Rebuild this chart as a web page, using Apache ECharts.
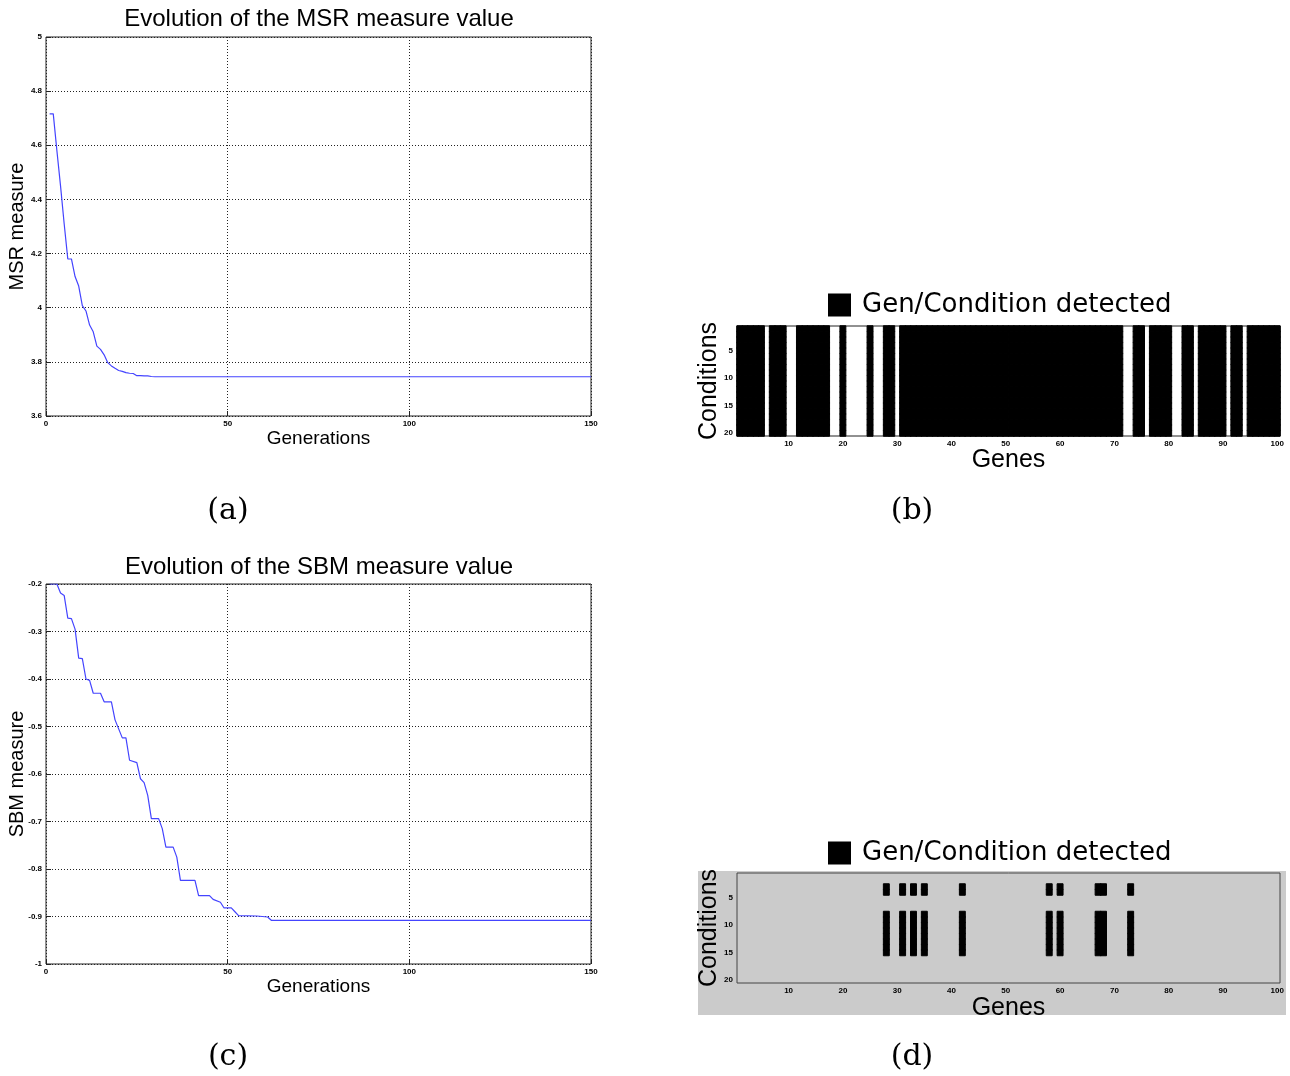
<!DOCTYPE html>
<html>
<head>
<meta charset="utf-8">
<script src="https://cdn.jsdelivr.net/npm/echarts@6.0.0/dist/echarts.min.js"></script>
<style>
html, body { margin: 0; padding: 0; background: #fff; }
#chart-container { width: 1290px; height: 1076px; }
</style>
</head>
<body>
<div id="chart-container"></div>
<script>
// (a) MSR measure per generation
var msrGen = [1, 2, 3, 4, 5, 6, 7, 8, 9, 10, 11, 12, 13, 14, 15, 16, 17, 18, 19, 20, 21, 22, 23, 24, 25, 26, 27, 28, 29, 30, 150];
var msrVal = [4.716, 4.716, 4.58, 4.45, 4.31, 4.18, 4.18, 4.115, 4.08, 4.008, 3.988, 3.936, 3.911, 3.858, 3.846, 3.826, 3.797, 3.785, 3.776, 3.768, 3.765, 3.76, 3.758, 3.757, 3.749, 3.749, 3.748, 3.748, 3.746, 3.745, 3.745];

// (c) SBM measure per generation
var sbmGen = [1, 3, 4, 5, 6, 7, 8, 9, 10, 11, 12, 13, 15, 16, 18, 19, 20, 21, 22, 23, 25, 26, 27, 28, 29, 31, 32, 33, 35, 36, 37, 41, 42, 45, 46, 48, 49, 51, 52, 53, 58, 61, 62, 150];
var sbmVal = [-0.2, -0.2, -0.219, -0.224, -0.272, -0.273, -0.295, -0.356, -0.357, -0.4, -0.403, -0.43, -0.43, -0.448, -0.448, -0.486, -0.505, -0.524, -0.524, -0.571, -0.576, -0.61, -0.618, -0.645, -0.694, -0.694, -0.715, -0.754, -0.754, -0.775, -0.824, -0.824, -0.856, -0.856, -0.864, -0.87, -0.882, -0.882, -0.89, -0.898, -0.899, -0.901, -0.908, -0.908];

// (b) / (d) bicluster maps
var geneCount = 100;
var conditionCount = 20;
var undetectedGenesB = [6, 10, 11, 18, 19, 21, 22, 23, 24, 26, 27, 30, 72, 73, 76, 81, 82, 85, 91, 94];
var detectedGenesD = [28, 31, 33, 35, 42, 58, 60, 67, 68, 73];
var detectedCondsD = [3, 4, 8, 9, 10, 11, 12, 13, 14, 15];

var geneLabels = [];
for (var g = 1; g <= geneCount; g++) geneLabels.push(String(g));
var conditionLabels = [];
for (var c = 1; c <= conditionCount; c++) conditionLabels.push(String(c));

var msrData = msrGen.map(function (x, i) { return [x, msrVal[i]]; });
var sbmData = sbmGen.map(function (x, i) { return [x, sbmVal[i]]; });

var cellsB = [];
geneLabels.forEach(function (gl, gi) {
    if (undetectedGenesB.indexOf(gi + 1) >= 0) return;
    conditionLabels.forEach(function (cl, ci) { cellsB.push([gi, ci, 1]); });
});
var cellsD = [];
detectedGenesD.forEach(function (gene) {
    detectedCondsD.forEach(function (cond) { cellsD.push([gene - 1, cond - 1, 1]); });
});

var sansFont = '"Liberation Sans", Arial, sans-serif';
var tickLabel = { color: '#000', fontSize: 8, fontWeight: 'bold', fontFamily: sansFont, margin: 4 };
var dotted = { show: true, lineStyle: { color: '#222', type: [1, 2], width: 1 } };

function valueX(grid) {
    return {
        gridIndex: grid, type: 'value', min: 0, max: 150, interval: 50,
        axisLine: { show: false },
        axisTick: { inside: true, length: 5, lineStyle: { color: '#222' } },
        axisLabel: tickLabel,
        splitLine: dotted,
        name: 'Generations', nameLocation: 'middle', nameGap: 13, nameMoveOverlap: false,
        nameTextStyle: { color: '#000', fontSize: 19, fontFamily: sansFont }
    };
}
function valueY(grid, min, max, interval, name) {
    return {
        gridIndex: grid, type: 'value', min: min, max: max, interval: interval,
        axisLine: { show: false },
        axisTick: { inside: true, length: 5, lineStyle: { color: '#222' } },
        axisLabel: tickLabel,
        splitLine: dotted,
        name: name, nameLocation: 'middle', nameGap: 19, nameMoveOverlap: false,
        nameTextStyle: { color: '#000', fontSize: 20, fontFamily: sansFont }
    };
}
function geneX(grid, gap) {
    var every10 = function (idx) { return (idx + 1) % 10 === 0; };
    return {
        gridIndex: grid, type: 'category', data: geneLabels,
        axisLine: { show: false },
        axisTick: { inside: true, length: 4, alignWithLabel: true, interval: every10, lineStyle: { color: '#444' } },
        axisLabel: Object.assign({}, tickLabel, { interval: every10 }),
        splitLine: { show: false },
        name: 'Genes', nameLocation: 'middle', nameGap: gap, nameMoveOverlap: false,
        nameTextStyle: { color: '#000', fontSize: 25, fontFamily: sansFont }
    };
}
function condY(grid) {
    var every5 = function (idx) { return (idx + 1) % 5 === 0; };
    return {
        gridIndex: grid, type: 'category', data: conditionLabels, inverse: true,
        axisLine: { show: false },
        axisTick: { inside: true, length: 4, alignWithLabel: true, interval: every5, lineStyle: { color: '#444' } },
        axisLabel: Object.assign({}, tickLabel, { interval: every5 }),
        splitLine: { show: false },
        name: 'Conditions', nameLocation: 'middle', nameGap: 15, nameMoveOverlap: false,
        nameTextStyle: { color: '#000', fontSize: 25, fontFamily: sansFont }
    };
}

var dom = document.getElementById('chart-container');
var myChart = echarts.init(dom, null, { renderer: 'canvas', useDirtyRect: false });
var option;

var legendBase = {
    icon: 'rect', itemWidth: 21, itemHeight: 21, left: 828, padding: 0,
    data: ['Gen/Condition detected'],
    textStyle: { color: '#000', fontSize: 26, fontFamily: '"DejaVu Sans", sans-serif', padding: [0, 0, 0, 7] }
};

option = {
    backgroundColor: '#fff',
    animation: false,
    legend: [
        Object.assign({}, legendBase, { top: 292 }),
        Object.assign({}, legendBase, { top: 840 })
    ],
    graphic: [
        { type: 'rect', z: -10, shape: { x: 698, y: 871, width: 588, height: 144 }, style: { fill: '#cbcbcb' } },
        { type: 'text', x: 319, y: 19, style: { text: 'Evolution of the MSR measure value', fill: '#000', font: '24px "Liberation Sans"', align: 'center', verticalAlign: 'middle' } },
        { type: 'text', x: 319, y: 567, style: { text: 'Evolution of the SBM measure value', fill: '#000', font: '24px "Liberation Sans"', align: 'center', verticalAlign: 'middle' } },
        { type: 'text', x: 228, y: 511, style: { text: '(a)', fill: '#000', font: '30px "DejaVu Serif"', align: 'center', verticalAlign: 'middle' } },
        { type: 'text', x: 912, y: 511, style: { text: '(b)', fill: '#000', font: '30px "DejaVu Serif"', align: 'center', verticalAlign: 'middle' } },
        { type: 'text', x: 228, y: 1057, style: { text: '(c)', fill: '#000', font: '30px "DejaVu Serif"', align: 'center', verticalAlign: 'middle' } },
        { type: 'text', x: 912, y: 1057, style: { text: '(d)', fill: '#000', font: '30px "DejaVu Serif"', align: 'center', verticalAlign: 'middle' } }
    ],
    grid: [
        { left: 46, top: 37, width: 545, height: 379, show: true, borderColor: '#222', borderWidth: 1, backgroundColor: '#fff', outerBoundsMode: 'none' },
        { left: 737, top: 326, width: 543, height: 110, show: true, borderColor: '#222', borderWidth: 1, backgroundColor: '#fff', outerBoundsMode: 'none' },
        { left: 46, top: 584, width: 545, height: 380, show: true, borderColor: '#222', borderWidth: 1, backgroundColor: '#fff', outerBoundsMode: 'none' },
        { left: 737, top: 873, width: 543, height: 110, show: true, borderColor: '#444', borderWidth: 1, backgroundColor: '#cbcbcb', outerBoundsMode: 'none' }
    ],
    xAxis: [valueX(0), geneX(1, 12), valueX(2), geneX(3, 13)],
    yAxis: [valueY(0, 3.6, 5, 0.2, 'MSR measure'), condY(1), valueY(2, -1, -0.2, 0.1, 'SBM measure'), condY(3)],
    series: [
        {
            name: 'MSR', type: 'line', xAxisIndex: 0, yAxisIndex: 0,
            data: msrData, showSymbol: false, silent: true,
            lineStyle: { color: '#4444ff', width: 1.2 }
        },
        {
            name: 'Gen/Condition detected', type: 'heatmap', xAxisIndex: 1, yAxisIndex: 1,
            data: cellsB, progressive: 0,
            itemStyle: { color: '#000', borderColor: '#000', borderWidth: 1, borderJoin: 'miter' },
            emphasis: { disabled: true }
        },
        {
            name: 'SBM', type: 'line', xAxisIndex: 2, yAxisIndex: 2,
            data: sbmData, showSymbol: false, silent: true,
            lineStyle: { color: '#4444ff', width: 1.2 }
        },
        {
            name: 'Gen/Condition detected', type: 'heatmap', xAxisIndex: 3, yAxisIndex: 3,
            data: cellsD, progressive: 0,
            itemStyle: { color: '#000', borderColor: '#000', borderWidth: 1, borderJoin: 'miter' },
            emphasis: { disabled: true }
        }
    ]
};

if (option && typeof option === 'object') {
    myChart.setOption(option);
}

window.addEventListener('resize', myChart.resize);
</script>
</body>
</html>
